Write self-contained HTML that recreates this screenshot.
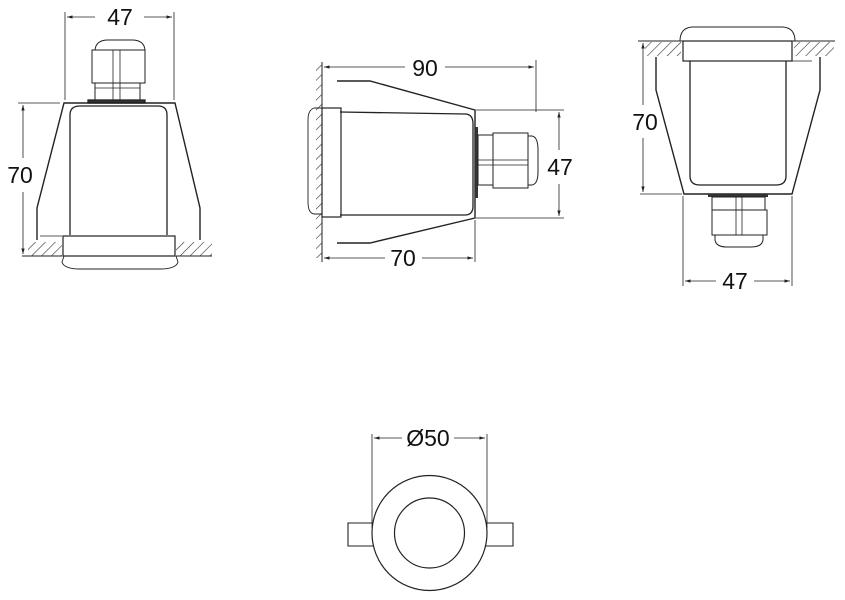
<!DOCTYPE html>
<html><head><meta charset="utf-8"><style>
html,body{margin:0;padding:0;background:#fff;}
svg{display:block}
text{font-family:"Liberation Sans",sans-serif;font-size:23px;fill:#111;}
</style></head><body>
<svg width="845" height="600" viewBox="0 0 845 600" xmlns="http://www.w3.org/2000/svg">
<defs>
<marker id="a" viewBox="0 0 10 10" refX="10" refY="5" markerWidth="7" markerHeight="7" orient="auto-start-reverse"><path d="M0,2 L10,5 L0,8 z" fill="#222"/></marker>
<pattern id="h" width="7" height="7" patternUnits="userSpaceOnUse" patternTransform="rotate(45)"><line x1="0" y1="0" x2="0" y2="7" stroke="#333" stroke-width="1.2"/></pattern>
</defs>
<g fill="none" stroke="#222" stroke-width="1.3">
<!-- VIEW 1 -->
<line x1="65" y1="12" x2="65" y2="100" stroke-width="0.8"/>
<line x1="174" y1="12" x2="174" y2="100" stroke-width="0.8"/>
<line x1="67" y1="17" x2="95" y2="17" stroke-width="0.8" marker-start="url(#a)"/>
<line x1="144" y1="17" x2="172" y2="17" stroke-width="0.8" marker-end="url(#a)"/>
<path d="M95,50 Q96,40 108,40 L132,40 Q144,40 145,50 Z" stroke-width="1"/>
<rect x="92" y="50" width="53" height="33" stroke-width="1"/>
<line x1="113" y1="50" x2="113" y2="100" stroke-width="0.8"/><line x1="120" y1="50" x2="120" y2="100" stroke-width="0.8"/>
<rect x="95" y="83" width="45" height="17" stroke-width="1"/>
<line x1="95" y1="88" x2="140" y2="88" stroke-width="0.8"/>
<rect x="88" y="100" width="57" height="3" fill="#333"/>
<path d="M37,240 L37,208 L64,103 L175,103 L200,208 L200,240" stroke-width="1.4"/>
<path d="M70,235 L70,115 Q70,106 80,106 L158,106 Q167,106 167,115 L167,235"/>
<rect x="63" y="236" width="112" height="20" stroke-width="1.2"/>
<path d="M64,256 L62,262 Q64,269 80,269 L160,269 Q176,269 178,262 L176,256" stroke-width="0.9"/>
<rect x="28" y="242" width="34" height="14" fill="url(#h)" stroke="none"/>
<rect x="176" y="242" width="36" height="14" fill="url(#h)" stroke="none"/>
<line x1="22" y1="256" x2="62" y2="256" stroke-width="1"/><line x1="176" y1="256" x2="212" y2="256" stroke-width="1"/>
<line x1="18" y1="103" x2="60" y2="103" stroke-width="0.8"/>
<line x1="40" y1="236" x2="62" y2="236" stroke-width="0.8"/>
<line x1="23" y1="105" x2="23" y2="158" stroke-width="0.8" marker-start="url(#a)"/>
<line x1="23" y1="192" x2="23" y2="254" stroke-width="0.8" marker-end="url(#a)"/>
<!-- VIEW 2 -->
<rect x="316" y="65" width="6" height="193" fill="url(#h)" stroke="none"/>
<line x1="322" y1="62" x2="322" y2="262" stroke-width="1"/>
<line x1="536" y1="60" x2="536" y2="112" stroke-width="0.8"/>
<line x1="324" y1="67" x2="405" y2="67" stroke-width="0.8" marker-start="url(#a)"/>
<line x1="445" y1="67" x2="534" y2="67" stroke-width="0.8" marker-end="url(#a)"/>
<path d="M337,81 L370,81 L475,110 L475,218 L370,243 L337,243" stroke-width="1.4"/>
<path d="M340,112 L465,114 Q473,114 473,124 L473,206 Q473,215 465,215 L340,215"/>
<rect x="322" y="108" width="19" height="109" stroke-width="1.2"/>
<path d="M322,108 L314,108 Q308,110 308,120 L308,202 Q308,213 314,214 L322,214" stroke-width="0.9"/>
<rect x="475" y="127" width="3" height="71" fill="#333" stroke="none"/>
<rect x="478" y="135" width="15" height="50" stroke-width="1"/>
<line x1="478" y1="160" x2="528" y2="160" stroke-width="0.8"/><line x1="478" y1="165" x2="528" y2="165" stroke-width="0.8"/>
<rect x="493" y="133" width="35" height="55" stroke-width="1"/>
<path d="M528,136 L532,136 Q538,137 538,150 L538,172 Q538,184 532,185 L528,185" stroke-width="1"/>
<line x1="476" y1="110" x2="564" y2="110" stroke-width="0.8"/>
<line x1="476" y1="218" x2="564" y2="218" stroke-width="0.8"/>
<line x1="559" y1="112" x2="559" y2="150" stroke-width="0.8" marker-start="url(#a)"/>
<line x1="559" y1="184" x2="559" y2="216" stroke-width="0.8" marker-end="url(#a)"/>
<line x1="475" y1="220" x2="475" y2="262" stroke-width="0.8"/>
<line x1="324" y1="258" x2="385" y2="258" stroke-width="0.8" marker-start="url(#a)"/>
<line x1="422" y1="258" x2="473" y2="258" stroke-width="0.8" marker-end="url(#a)"/>
<!-- VIEW 3 -->
<rect x="645" y="42" width="36" height="14" fill="url(#h)" stroke="none"/>
<rect x="794" y="42" width="40" height="14" fill="url(#h)" stroke="none"/>
<line x1="638" y1="41" x2="835" y2="41" stroke-width="1"/>
<path d="M680,41 Q680,28 692,27 L783,27 Q795,28 795,41" stroke-width="1"/>
<rect x="683" y="41" width="109" height="20" stroke-width="1.2"/>
<line x1="792" y1="61" x2="812" y2="61" stroke-width="0.8"/>
<path d="M656,57 L656,90 L684,194 L792,194 L820,90 L820,57" stroke-width="1.4"/>
<path d="M690,61 L690,176 Q690,185 700,185 L776,185 Q786,185 786,176 L786,61"/>
<rect x="708" y="194" width="60" height="3" fill="#333" stroke="none"/>
<rect x="712" y="197" width="53" height="13" stroke-width="1"/>
<rect x="712" y="210" width="55" height="25" stroke-width="1"/>
<line x1="736" y1="197" x2="736" y2="235" stroke-width="0.8"/><line x1="742" y1="197" x2="742" y2="235" stroke-width="0.8"/>
<path d="M715,235 L715,240 Q716,247 727,247 L751,247 Q762,247 763,240 L763,235" stroke-width="1"/>
<line x1="640" y1="194" x2="682" y2="194" stroke-width="0.8"/>
<line x1="643" y1="43" x2="643" y2="105" stroke-width="0.8" marker-start="url(#a)"/>
<line x1="643" y1="138" x2="643" y2="192" stroke-width="0.8" marker-end="url(#a)"/>
<line x1="683" y1="196" x2="683" y2="286" stroke-width="0.8"/>
<line x1="792" y1="196" x2="792" y2="286" stroke-width="0.8"/>
<line x1="685" y1="281" x2="716" y2="281" stroke-width="0.8" marker-start="url(#a)"/>
<line x1="754" y1="281" x2="790" y2="281" stroke-width="0.8" marker-end="url(#a)"/>
<!-- VIEW 4 -->
<line x1="372" y1="434" x2="372" y2="528" stroke-width="0.8"/>
<line x1="487" y1="434" x2="487" y2="528" stroke-width="0.8"/>
<line x1="374" y1="438" x2="402" y2="438" stroke-width="0.8" marker-start="url(#a)"/>
<line x1="454" y1="438" x2="485" y2="438" stroke-width="0.8" marker-end="url(#a)"/>
<path d="M374,523 L348,523 L348,546 L374,546" stroke-width="1.1"/>
<path d="M485,523 L513,523 L513,546 L485,546" stroke-width="1.1"/>
<circle cx="429.5" cy="533" r="57.5" fill="#fff" stroke-width="1.2"/>
<circle cx="429.5" cy="533" r="35" stroke-width="1.2"/>
</g>
<text x="120" y="25" text-anchor="middle">47</text>
<text x="20" y="183" text-anchor="middle">70</text>
<text x="425" y="76" text-anchor="middle">90</text>
<text x="560" y="175" text-anchor="middle">47</text>
<text x="403" y="266" text-anchor="middle">70</text>
<text x="645" y="130" text-anchor="middle">70</text>
<text x="735" y="289" text-anchor="middle">47</text>
<text x="428" y="446" text-anchor="middle">Ø50</text>
</svg>
</body></html>
